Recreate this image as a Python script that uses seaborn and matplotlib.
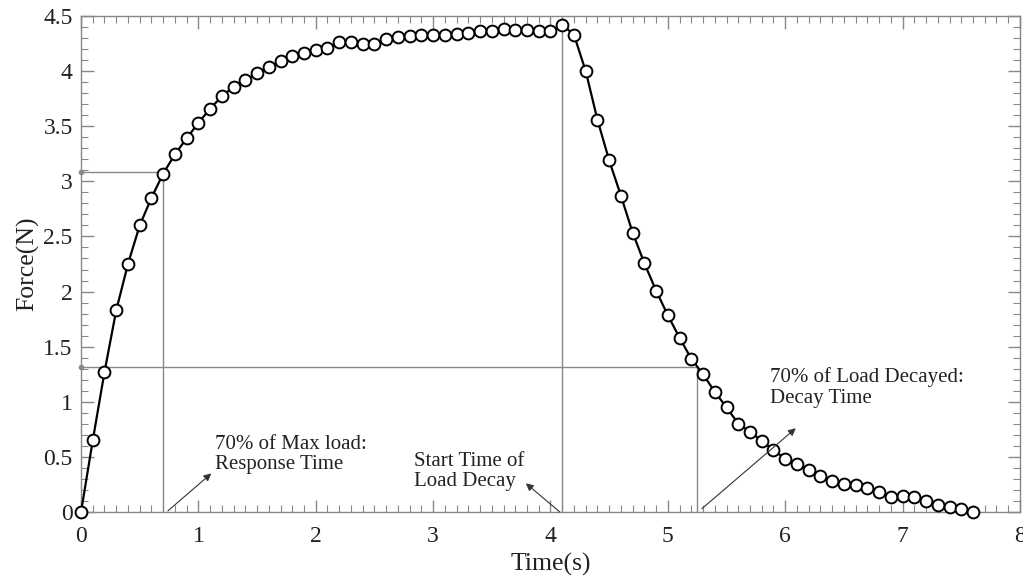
import numpy as np
import pandas as pd
import matplotlib
matplotlib.use("Agg")
import matplotlib.pyplot as plt
from matplotlib.ticker import MultipleLocator, FormatStrFormatter
import seaborn as sns

# ---- data ----
time_s = [round(0.1 * i, 1) for i in range(77)]
force_n = [
    0.00, 0.65, 1.27, 1.83, 2.25, 2.60, 2.85, 3.07, 3.245, 3.39,
    3.53, 3.66, 3.77, 3.86, 3.92, 3.98, 4.04, 4.09, 4.14, 4.16,
    4.19, 4.21, 4.26, 4.26, 4.25, 4.25, 4.29, 4.31, 4.32, 4.33,
    4.33, 4.33, 4.34, 4.35, 4.36, 4.36, 4.38, 4.37, 4.37, 4.36,
    4.36, 4.42, 4.33, 4.00, 3.56, 3.19, 2.87, 2.535, 2.257, 2.008,
    1.785, 1.58, 1.39, 1.25, 1.09, 0.95, 0.80, 0.73, 0.644, 0.563,
    0.481, 0.433, 0.381, 0.33, 0.284, 0.254, 0.245, 0.215, 0.179, 0.139,
    0.145, 0.139, 0.10, 0.064, 0.048, 0.024, 0.003,
]
response_time, response_force = 0.70, 3.083
decay_start_time, peak_force = 4.10, 4.42
decay_time, decay_force = 5.25, 1.313

annot_texts = ["70% of Max load:\nResponse Time",
               "Start Time of\nLoad Decay",
               "70% of Load Decayed:\nDecay Time"]

df = pd.DataFrame({"Time(s)": time_s, "Force(N)": force_n})

sns.set_style("ticks")
plt.rcParams["font.family"] = ["Liberation Serif", "DejaVu Serif"]

fig = plt.figure(figsize=(10.23, 5.79), dpi=100)
ax = fig.add_axes([0.0792, 0.1157, 0.9178, 0.8567])

grey = "#888888"
# reference lines
ax.plot([0, response_time], [response_force, response_force], color=grey, lw=1.0, zorder=1)
ax.plot([response_time, response_time], [0, response_force], color=grey, lw=1.0, zorder=1)
ax.plot([decay_start_time, decay_start_time], [0, peak_force], color=grey, lw=1.0, zorder=1)
ax.plot([0, decay_time], [decay_force, decay_force], color=grey, lw=1.0, zorder=1)
ax.plot([decay_time, decay_time], [0, decay_force], color=grey, lw=1.0, zorder=1)
ax.plot([0, 0], [response_force, decay_force], linestyle="none", marker="o",
        markersize=3, color=grey, clip_on=False, zorder=1)

sns.lineplot(data=df, x="Time(s)", y="Force(N)", ax=ax, color="black",
             marker="o", markersize=8.5, markerfacecolor="white",
             markeredgecolor="black", markeredgewidth=1.4, linewidth=1.6,
             sort=False, estimator=None, clip_on=False, zorder=3)

ax.set_xlim(0, 8)
ax.set_ylim(0, 4.5)
ax.xaxis.set_major_locator(MultipleLocator(1))
ax.xaxis.set_minor_locator(MultipleLocator(0.1))
ax.yaxis.set_major_locator(MultipleLocator(0.5))
ax.yaxis.set_minor_locator(MultipleLocator(0.1))
ax.yaxis.set_major_formatter(FormatStrFormatter("%g"))
ax.xaxis.set_major_formatter(FormatStrFormatter("%g"))
ax.tick_params(which="both", direction="in", top=True, right=True,
               color=grey, labelcolor="#222222", labelsize=17)
ax.tick_params(which="major", length=9, width=1.0)
ax.tick_params(which="minor", length=5, width=0.8)
ax.tick_params(axis="x", which="major", pad=10)
ax.tick_params(axis="y", which="major", pad=6)
for s in ax.spines.values():
    s.set_color(grey)
    s.set_linewidth(1.0)

ax.set_xlabel("Time(s)", fontsize=18.5, color="#222222", labelpad=4)
ax.set_ylabel("Force(N)", fontsize=18.5, color="#222222", labelpad=3)

txt_kw = dict(fontsize=15, color="#222222", va="center", ha="left", linespacing=1.1)
ax.text(1.14, 0.52, annot_texts[0], **txt_kw)
ax.text(2.84, 0.37, annot_texts[1], **txt_kw)
ax.text(5.87, 1.13, annot_texts[2], **txt_kw)

arrow_kw = dict(arrowstyle="-|>", color="#333333", lw=0.8, mutation_scale=11,
                shrinkA=0, shrinkB=0)
ax.annotate("", xy=(1.11, 0.35), xytext=(0.74, 0.01), arrowprops=arrow_kw)
ax.annotate("", xy=(3.79, 0.26), xytext=(4.08, 0.0), arrowprops=arrow_kw)
ax.annotate("", xy=(6.09, 0.76), xytext=(5.29, 0.03), arrowprops=arrow_kw)

fig.savefig("out.png", dpi=100)
